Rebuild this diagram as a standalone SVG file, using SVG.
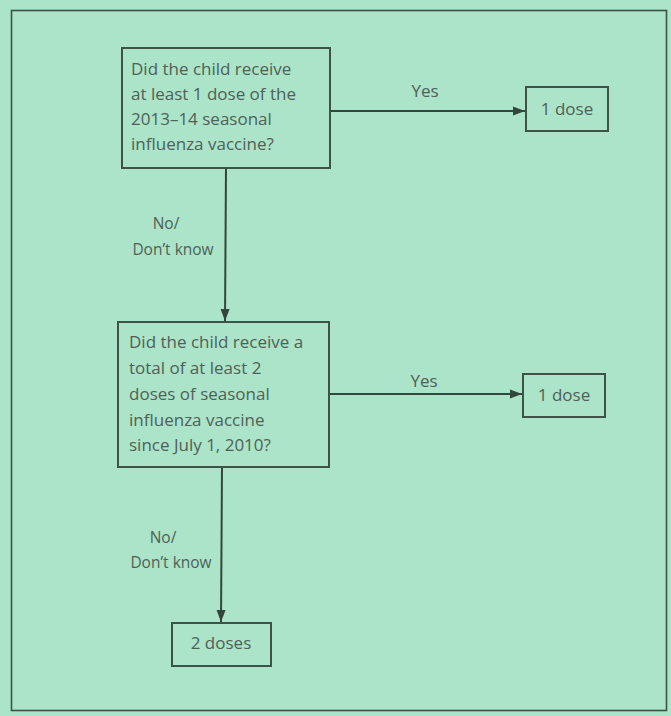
<svg xmlns="http://www.w3.org/2000/svg" width="671" height="716" viewBox="0 0 671 716">
<defs>
<style>
.bg{fill:#abe4c9}
.frame{fill:none;stroke:#3f5247;stroke-width:1.6}
.box{fill:none;stroke:#3f5247;stroke-width:2}
.t{font-family:"Open Sans","Noto Sans",sans-serif;font-size:17px;fill:#4f6157}
.s{font-size:15.5px}
.c{text-anchor:middle}
.line{fill:none;stroke:#34463b;stroke-width:2}
</style>
<marker id="ah" viewBox="0 0 12 10" refX="12" refY="5" markerWidth="13" markerHeight="10" orient="auto" markerUnits="userSpaceOnUse">
<path d="M0,0.5 L12,5 L0,9.5 z" fill="#34463b"/>
</marker>
</defs>
<rect class="bg" x="0" y="0" width="671" height="716"/>
<rect class="frame" x="11.5" y="10.5" width="655" height="700"/>
<g id="connectors">
<line class="line" x1="330" y1="111" x2="525" y2="111" marker-end="url(#ah)"/>
<line class="line" x1="226" y1="168" x2="225" y2="321" marker-end="url(#ah)"/>
<line class="line" x1="329" y1="394" x2="522" y2="394" marker-end="url(#ah)"/>
<line class="line" x1="222" y1="467" x2="221" y2="622" marker-end="url(#ah)"/>
<text class="t c" x="425" y="97">Yes</text>
<text class="t c" x="424" y="387">Yes</text>
<text class="t s c" x="166" y="229">No/</text>
<text class="t s c" x="173" y="255">Don’t know</text>
<text class="t s c" x="163" y="543">No/</text>
<text class="t s c" x="171" y="568">Don’t know</text>
</g>
<g id="q1">
<rect class="box" x="122" y="48" width="208" height="120"/>
<text class="t" x="131" y="75">Did the child receive</text>
<text class="t" x="131" y="100">at least 1 dose of the</text>
<text class="t" x="131" y="125">2013–14 seasonal</text>
<text class="t" x="131" y="150">influenza vaccine?</text>
</g>
<g id="d1">
<rect class="box" x="526" y="87" width="82" height="44"/>
<text class="t c" x="567" y="115">1 dose</text>
</g>
<g id="q2">
<rect class="box" x="118" y="322" width="211" height="145"/>
<text class="t" x="129" y="348">Did the child receive a</text>
<text class="t" x="129" y="374">total of at least 2</text>
<text class="t" x="129" y="400">doses of seasonal</text>
<text class="t" x="129" y="426">influenza vaccine</text>
<text class="t" x="129" y="451">since July 1, 2010?</text>
</g>
<g id="d2">
<rect class="box" x="523" y="374" width="82" height="43"/>
<text class="t c" x="564" y="401">1 dose</text>
</g>
<g id="d3">
<rect class="box" x="172" y="623" width="99" height="43"/>
<text class="t c" x="221" y="649">2 doses</text>
</g>
</svg>
